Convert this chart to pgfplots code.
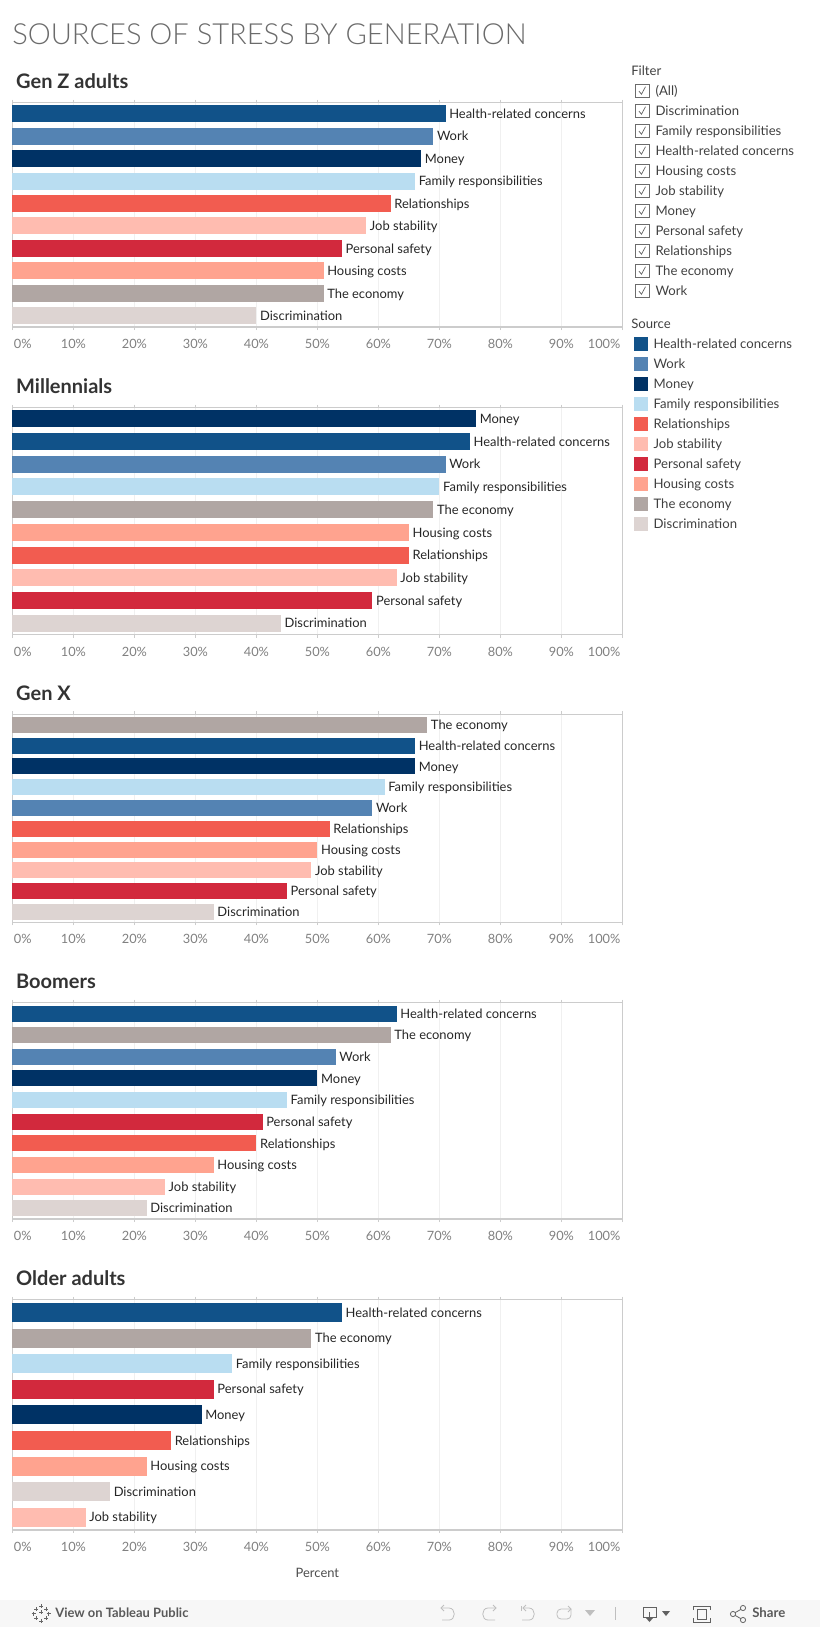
\documentclass[border=0pt]{standalone}
\usepackage{fontspec}
\usepackage{pgfplots}
\pgfplotsset{compat=1.18}
\setmainfont{Lato}
\newfontfamily\lightfont{Lato Light}
\definecolor{health}{HTML}{115289}
\definecolor{work}{HTML}{5483B3}
\definecolor{money}{HTML}{003265}
\definecolor{famresp}{HTML}{B9DDF1}
\definecolor{relat}{HTML}{F25C50}
\definecolor{job}{HTML}{FFBCB0}
\definecolor{safety}{HTML}{D2293D}
\definecolor{housing}{HTML}{FFA38F}
\definecolor{economy}{HTML}{B0A6A3}
\definecolor{discr}{HTML}{DDD4D2}
\definecolor{inktext}{HTML}{333333}
\definecolor{ticktext}{HTML}{808080}
\definecolor{frameline}{HTML}{CCCCCC}
\def\px{0.75pt}
\newcommand\src[4]{\addplot[fill=#1,draw=none,nodes near coords={#4}] coordinates {(#3,#2)};}
\pgfplotsset{panel/.style={
    xbar, bar shift=0pt,
    scale only axis, width=610*\px,
    anchor=north west,
    xmin=0, xmax=100, y dir=reverse,
    axis line style={frameline,line width=1.2*\px},
    tick align=outside, ytick=\empty,
    xtick={0,10,...,100},
    xticklabels={\makebox[0pt][l]{\hspace{1.1pt}0\%},10\%,20\%,30\%,40\%,50\%,60\%,70\%,80\%,90\%,\makebox[0pt][r]{100\%\hspace{1.5pt}}},
    major tick length=3*\px,
    x tick style={frameline,line width=0.6*\px},
    xmajorgrids, grid style={color=black!6,line width=0.8*\px},
    xticklabel style={font=\fontsize{9.6pt}{11pt}\selectfont,text=ticktext,inner sep=0pt,yshift=-9*\px},
    title style={at={(0,1)},anchor=base west,font=\fontsize{15pt}{16pt}\selectfont\bfseries,text=inktext,xshift=3.5*\px,yshift=6*\px,inner sep=0pt},
    every node near coord/.append style={font=\fontsize{9.7pt}{11pt}\selectfont,text=black!85,anchor=west,inner sep=0pt,xshift=3.5*\px,yshift=-1*\px,text height=1.4ex,text depth=.3ex},
    clip=false,
}}
\begin{document}
\begin{tikzpicture}[x=0.75pt,y=-0.75pt]
\path[use as bounding box] (0,0) rectangle (820,1627);
\fill[black!3] (0,1600) rectangle (820,1627);
\node[anchor=base west,inner sep=0pt,text=black!58,font=\fontsize{21.8pt}{24pt}\selectfont\lightfont] at (12,45) {SOURCES OF STRESS BY GENERATION};

\begin{axis}[panel,at={(12.4*\px,-102.5*\px)},height=224.5*\px,ymin=-0.5,ymax=9.5,bar width=17*\px,title={Gen Z adults}]
\src{health}{0}{71}{Health-related concerns}
\src{work}{1}{69}{Work}
\src{money}{2}{67}{Money}
\src{famresp}{3}{66}{Family responsibilities}
\src{relat}{4}{62}{Relationships}
\src{job}{5}{58}{Job stability}
\src{safety}{6}{54}{Personal safety}
\src{housing}{7}{51}{Housing costs}
\src{economy}{8}{51}{The economy}
\src{discr}{9}{40}{Discrimination}
\end{axis}

\begin{axis}[panel,at={(12.4*\px,-407.5*\px)},height=227*\px,ymin=-0.5,ymax=9.5,bar width=17*\px,title={Millennials}]
\src{money}{0}{76}{Money}
\src{health}{1}{75}{Health-related concerns}
\src{work}{2}{71}{Work}
\src{famresp}{3}{70}{Family responsibilities}
\src{economy}{4}{69}{The economy}
\src{housing}{5}{65}{Housing costs}
\src{relat}{6}{65}{Relationships}
\src{job}{7}{63}{Job stability}
\src{safety}{8}{59}{Personal safety}
\src{discr}{9}{44}{Discrimination}
\end{axis}

\begin{axis}[panel,at={(12.4*\px,-714.3*\px)},height=208*\px,ymin=-0.5,ymax=9.5,bar width=16*\px,title={Gen X}]
\src{economy}{0}{68}{The economy}
\src{health}{1}{66}{Health-related concerns}
\src{money}{2}{66}{Money}
\src{famresp}{3}{61}{Family responsibilities}
\src{work}{4}{59}{Work}
\src{relat}{5}{52}{Relationships}
\src{housing}{6}{50}{Housing costs}
\src{job}{7}{49}{Job stability}
\src{safety}{8}{45}{Personal safety}
\src{discr}{9}{33}{Discrimination}
\end{axis}

\begin{axis}[panel,at={(12.4*\px,-1002.7*\px)},height=216.3*\px,ymin=-0.5,ymax=9.5,bar width=16*\px,title={Boomers}]
\src{health}{0}{63}{Health-related concerns}
\src{economy}{1}{62}{The economy}
\src{work}{2}{53}{Work}
\src{money}{3}{50}{Money}
\src{famresp}{4}{45}{Family responsibilities}
\src{safety}{5}{41}{Personal safety}
\src{relat}{6}{40}{Relationships}
\src{housing}{7}{33}{Housing costs}
\src{job}{8}{25}{Job stability}
\src{discr}{9}{22}{Discrimination}
\end{axis}

\begin{axis}[panel,at={(12.4*\px,-1299.7*\px)},height=230.3*\px,ymin=-0.5,ymax=8.5,bar width=19*\px,title={Older adults},
    xlabel={Percent},xlabel style={font=\fontsize{9.7pt}{11pt}\selectfont,text=black!70,inner sep=0pt,yshift=-16*\px}]
\src{health}{0}{54}{Health-related concerns}
\src{economy}{1}{49}{The economy}
\src{famresp}{2}{36}{Family responsibilities}
\src{safety}{3}{33}{Personal safety}
\src{money}{4}{31}{Money}
\src{relat}{5}{26}{Relationships}
\src{housing}{6}{22}{Housing costs}
\src{discr}{7}{16}{Discrimination}
\src{job}{8}{12}{Job stability}
\end{axis}

% filter and colour legend on the right
\tikzset{side/.style={anchor=west,inner sep=0pt,text=black!75,text height=1.4ex,text depth=.3ex,font=\fontsize{9.85pt}{11pt}\selectfont}}
\node[side] at (631,71.5) {Filter};
\foreach \y/\t in {90.7/(All),110.7/Discrimination,130.7/Family responsibilities,150.7/Health-related concerns,170.7/Housing costs,190.7/Job stability,210.7/Money,230.7/Personal safety,250.7/Relationships,270.7/The economy,290.7/Work}{
  \draw[black!58,line width=0.75pt] (635.5,\y-6.5) rectangle (649,\y+6.7);
  \draw[black!60,line width=0.55pt] (639,\y+0.5) -- (641.5,\y+3.5) -- (645.5,\y-4);
  \node[side] at (655.3,\y+0.8) {\t};
}
\node[side] at (631,324.8) {Source};
\foreach \y/\c/\t in {343.7/health/Health-related concerns,363.7/work/Work,383.7/money/Money,403.7/famresp/Family responsibilities,423.7/relat/Relationships,443.7/job/Job stability,463.7/safety/Personal safety,483.7/housing/Housing costs,503.7/economy/The economy,523.7/discr/Discrimination}{
  \fill[fill=\c] (634,\y-7) rectangle (648,\y+7);
  \node[side] at (653.3,\y+0.8) {\t};
}
% toolbar
\node[side,text=black!65,font=\fontsize{9.7pt}{11pt}\selectfont\bfseries] at (55,1613.7) {View on Tableau Public};
\node[side,text=black!65,font=\fontsize{9.9pt}{11pt}\selectfont\bfseries] at (752,1613.7) {Share};
\foreach \a/\b in {41/1606,41/1621,33.5/1613.5,48.5/1613.5,36/1609,46/1609,36/1618,46/1618,41/1612}{
  \draw[black!60,line width=0.6pt] (\a-2,\b) -- (\a+2,\b) (\a,\b-2) -- (\a,\b+2);
}
\begin{scope}[black!25,line width=0.6pt]
\draw (441,1608) -- (449,1608) .. controls (456,1608) and (456,1620) .. (449,1620) -- (442,1620);
\draw (444,1605) -- (441,1608) -- (444,1611);
\draw (496,1608) -- (488,1608) .. controls (481,1608) and (481,1620) .. (488,1620) -- (495,1620);
\draw (493,1605) -- (496,1608) -- (493,1611);
\draw (521,1606) -- (521,1611);
\draw (524,1608) -- (529,1608) .. controls (536,1608) and (536,1620) .. (529,1620) -- (522,1620);
\draw (526,1605) -- (523,1608) -- (526,1611);
\draw[rounded corners=3pt] (570,1609) -- (557,1609) -- (557,1619) -- (571,1619) -- (571,1609);
\draw (568,1606) -- (571,1609) -- (568,1612);
\fill (585,1610) -- (595,1610) -- (590,1616) -- cycle;
\draw (615,1607) -- (615,1620);
\end{scope}
\begin{scope}[black!62,line width=0.6pt]
\draw (643,1607) rectangle (656,1617);
\draw (649.5,1612) -- (649.5,1621);
\fill (646,1618) -- (653,1618) -- (649.5,1622) -- cycle;
\fill (662,1611) -- (670,1611) -- (666,1616) -- cycle;
\draw (697,1609) rectangle (706,1619);
\draw (693,1610) -- (693,1606) -- (710,1606) -- (710,1610) (693,1618) -- (693,1622) -- (710,1622) -- (710,1618);
\draw (733,1614) circle (2.6) (743,1608) circle (2.6) (743,1620) circle (2.6);
\draw (735.2,1612.6) -- (740.8,1609.4) (735.2,1615.4) -- (740.8,1618.6);
\end{scope}
\end{tikzpicture}
\end{document}
